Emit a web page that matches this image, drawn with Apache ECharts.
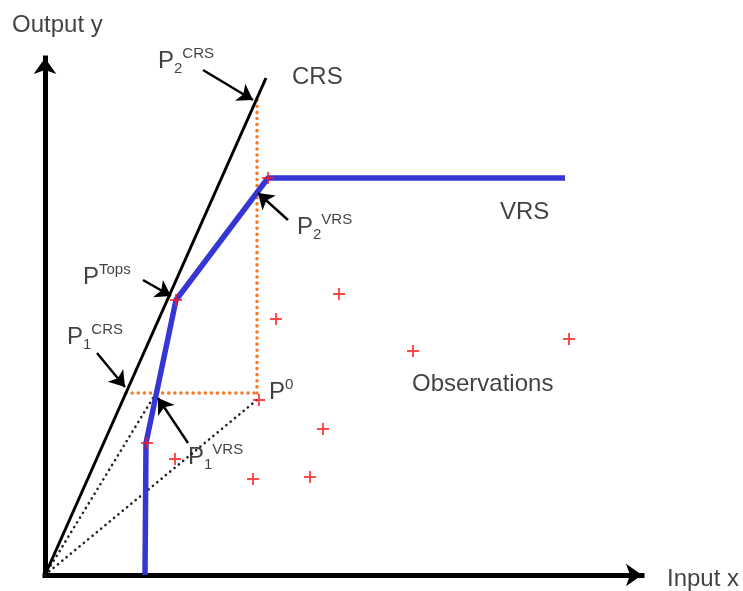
<!DOCTYPE html>
<html><head><meta charset="utf-8">
<script src="https://cdn.jsdelivr.net/npm/echarts@6/dist/echarts.min.js"></script>
<style>html,body{margin:0;padding:0;background:#fff}#c{width:743px;height:591px}</style>
</head><body><div id="c"></div>
<script>
// data units: horizontal / vertical offset from the origin of the figure
const crsFrontier = [[0, 0], [221, 497]];
const vrsFrontier = [[100, 0], [101, 132], [131, 275], [223, 397], [520, 397]];
const observations = [[223, 397], [131, 275], [294, 281], [231, 256], [368, 224], [524, 236],
  [214, 175], [278, 146], [102, 132], [130, 116], [208, 96], [265, 98]];
const projHorizontal = [[81, 182], [212, 182]];
const projVertical = [[212, 182], [212, 477]];
const rayToP1 = [[0, 0], [111, 182]];
const rayToP0 = [[0, 0], [213, 176]];
const arrowCoords = [
  [[158, 505], [208, 475]],
  [[243, 355], [213, 382]],
  [[98, 295], [126, 279]],
  [[52, 222], [80, 188]],
  [[143, 132], [113, 177]]
];
const labelTexts = ['Output y', '{p|P}{sub|2}{sup|CRS}', 'CRS', '{p|P}{sub|2}{sup|VRS}', 'VRS',
  '{p|P}{sup|Tops}', '{p|P}{sub|1}{sup|CRS}', '{p|P}{sup|0}', '{p|P}{sub|1}{sup|VRS}', 'Observations', 'Input x'];
const labelAnchors = [[-33, 550], [113, 514], [247, 498], [252, 348], [455, 363],
  [38, 298], [22, 238], [224, 183], [143, 118], [367, 191], [622, -4]];

const chart = echarts.init(document.getElementById('c'), null, {renderer: 'canvas'});
const font = 'Liberation Sans, Arial, sans-serif';
const textColor = '#111';
const axisCommon = {
  type: 'value',
  axisLine: {show: true, symbol: ['none', 'arrow'], symbolSize: [17, 16],
    lineStyle: {color: '#000', width: 5, cap: 'square'}},
  axisTick: {show: false}, axisLabel: {show: false}, splitLine: {show: false}
};
const plusPath = 'path://M4.2,0H5.8V4.2H10V5.8H5.8V10H4.2V5.8H0V4.2H4.2Z';

chart.setOption({
  animation: false,
  backgroundColor: '#fff',
  grid: {left: 45, right: 101, top: 58, bottom: 16},
  xAxis: Object.assign({min: 0, max: 597}, axisCommon),
  yAxis: Object.assign({min: 0, max: 517}, axisCommon),
  series: [
    {type: 'line', data: projHorizontal, symbol: 'none', z: 2,
      lineStyle: {color: '#f37a2a', width: 3.5, type: [0.1, 6], cap: 'round'}},
    {type: 'line', data: projVertical, symbol: 'none', z: 2,
      lineStyle: {color: '#f37a2a', width: 3.5, type: [0.1, 6], cap: 'round'}},
    {type: 'line', data: rayToP1, symbol: 'none', z: 2,
      lineStyle: {color: '#222', width: 2.6, type: [0.1, 5.5], cap: 'round'}},
    {type: 'line', data: rayToP0, symbol: 'none', z: 2,
      lineStyle: {color: '#222', width: 2.6, type: [0.1, 5.5], cap: 'round'}},
    {type: 'line', data: crsFrontier, symbol: 'none', z: 3,
      lineStyle: {color: '#000', width: 3}},
    {type: 'line', data: vrsFrontier, symbol: 'none', z: 4,
      lineStyle: {color: '#3636d4', width: 5.5, join: 'round'}},
    {type: 'scatter', data: observations, symbol: plusPath, symbolSize: 12, z: 5,
      itemStyle: {color: '#ff1a1a'}},
    {type: 'lines', coordinateSystem: 'cartesian2d', z: 6,
      symbol: ['none', 'arrow'], symbolSize: 15,
      lineStyle: {color: '#000', width: 2.4, opacity: 1},
      data: arrowCoords.map(c => ({coords: c}))},
    {type: 'scatter', symbolSize: 0, clip: false, z: 7, silent: true,
      data: labelAnchors.map((p, i) => ({value: p, name: labelTexts[i]})),
      label: {show: true, position: [0, 0], align: 'left', verticalAlign: 'middle',
        formatter: p => p.name,
        color: textColor, fontFamily: font, fontSize: 24,
        rich: {
          p: {fontSize: 24, fontFamily: font, color: textColor, lineHeight: 32, verticalAlign: 'middle'},
          sub: {fontSize: 15, fontFamily: font, color: textColor, lineHeight: 15, verticalAlign: 'bottom', padding: [0, 0, 1, 0]},
          sup: {fontSize: 15, fontFamily: font, color: textColor, lineHeight: 15, verticalAlign: 'top', padding: [1, 0, 0, 0]}
        }}}
  ]
});
</script></body></html>
